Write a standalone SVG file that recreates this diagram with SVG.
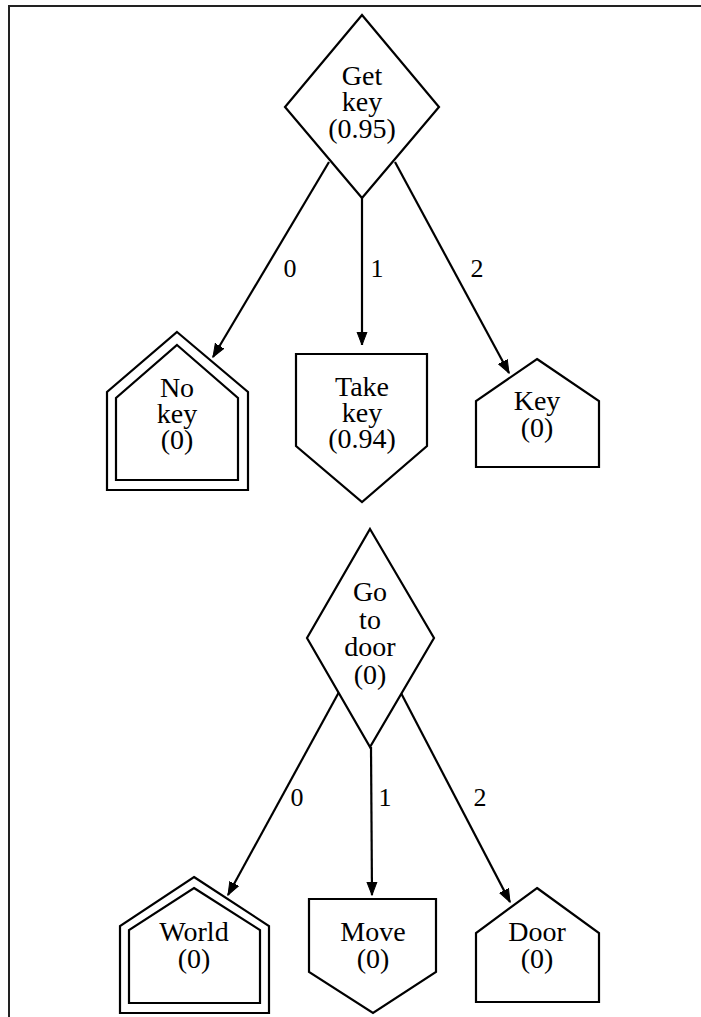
<svg xmlns="http://www.w3.org/2000/svg" width="701" height="1017" viewBox="0 0 701 1017">
<defs>
<marker id="arr" markerUnits="userSpaceOnUse" markerWidth="14" markerHeight="12" refX="13" refY="5" orient="auto" viewBox="0 0 14 10">
<path d="M0,0 L13,5 L0,10 Z" fill="#000" stroke="#000" stroke-width="1"/>
</marker>
</defs>
<style>
.shape{fill:#fff;stroke:#000;stroke-width:2.2}
.edge{fill:none;stroke:#000;stroke-width:2.2;marker-end:url(#arr)}
text{font-family:"Liberation Serif","Times New Roman",serif;fill:#000;text-anchor:middle}
.nt{font-size:28px}
.et{font-size:26px}
</style>
<rect width="701" height="1017" fill="#fff"/>
<path d="M9,1017 V6 H701" fill="none" stroke="#222" stroke-width="2"/>
<g id="connectors">
<path class="edge" d="M329,162 L213,357"/>
<path class="edge" d="M362,198 L362,345"/>
<path class="edge" d="M395,162 L509,373"/>
<path class="edge" d="M339,692 L228,895"/>
<path class="edge" d="M371,747 L372,895"/>
<path class="edge" d="M401,693 L510,902"/>
<text class="et" x="290" y="277">0</text>
<text class="et" x="377" y="277">1</text>
<text class="et" x="477" y="277">2</text>
<text class="et" x="297" y="806">0</text>
<text class="et" x="385" y="806">1</text>
<text class="et" x="480" y="806">2</text>
</g>
<g id="get_key">
<polygon class="shape" points="362,15 439,107 362,198 285,107"/>
<text class="nt" x="362" y="85">Get</text>
<text class="nt" x="362" y="111">key</text>
<text class="nt" x="362" y="138">(0.95)</text>
</g>
<g id="no_key">
<polygon class="shape" points="177,332 248,392 248,490 107,490 107,392"/>
<polygon class="shape" points="177,345 238,398 238,480 116,480 116,398"/>
<text class="nt" x="177" y="397">No</text>
<text class="nt" x="177" y="423">key</text>
<text class="nt" x="177" y="449">(0)</text>
</g>
<g id="take_key">
<polygon class="shape" points="296,354 427,354 427,446 362,502 296,446"/>
<text class="nt" x="362" y="396">Take</text>
<text class="nt" x="362" y="422">key</text>
<text class="nt" x="362" y="448">(0.94)</text>
</g>
<g id="key">
<polygon class="shape" points="537,359 599,401 599,467 476,467 476,401"/>
<text class="nt" x="537" y="410">Key</text>
<text class="nt" x="537" y="437">(0)</text>
</g>
<g id="go_to_door">
<polygon class="shape" points="370,529 434,638 370,747 307,638"/>
<text class="nt" x="370" y="601">Go</text>
<text class="nt" x="370" y="629">to</text>
<text class="nt" x="370" y="656">door</text>
<text class="nt" x="370" y="684">(0)</text>
</g>
<g id="world">
<polygon class="shape" points="194,877 269,926 269,1013 120,1013 120,926"/>
<polygon class="shape" points="194,888 260,930 260,1003 129,1003 129,930"/>
<text class="nt" x="194" y="941">World</text>
<text class="nt" x="194" y="968">(0)</text>
</g>
<g id="move">
<polygon class="shape" points="309,899 436,899 436,972 373,1013 309,972"/>
<text class="nt" x="373" y="941">Move</text>
<text class="nt" x="373" y="968">(0)</text>
</g>
<g id="door">
<polygon class="shape" points="537,888 599,933 599,1002 476,1002 476,933"/>
<text class="nt" x="537" y="941">Door</text>
<text class="nt" x="537" y="968">(0)</text>
</g>
</svg>
